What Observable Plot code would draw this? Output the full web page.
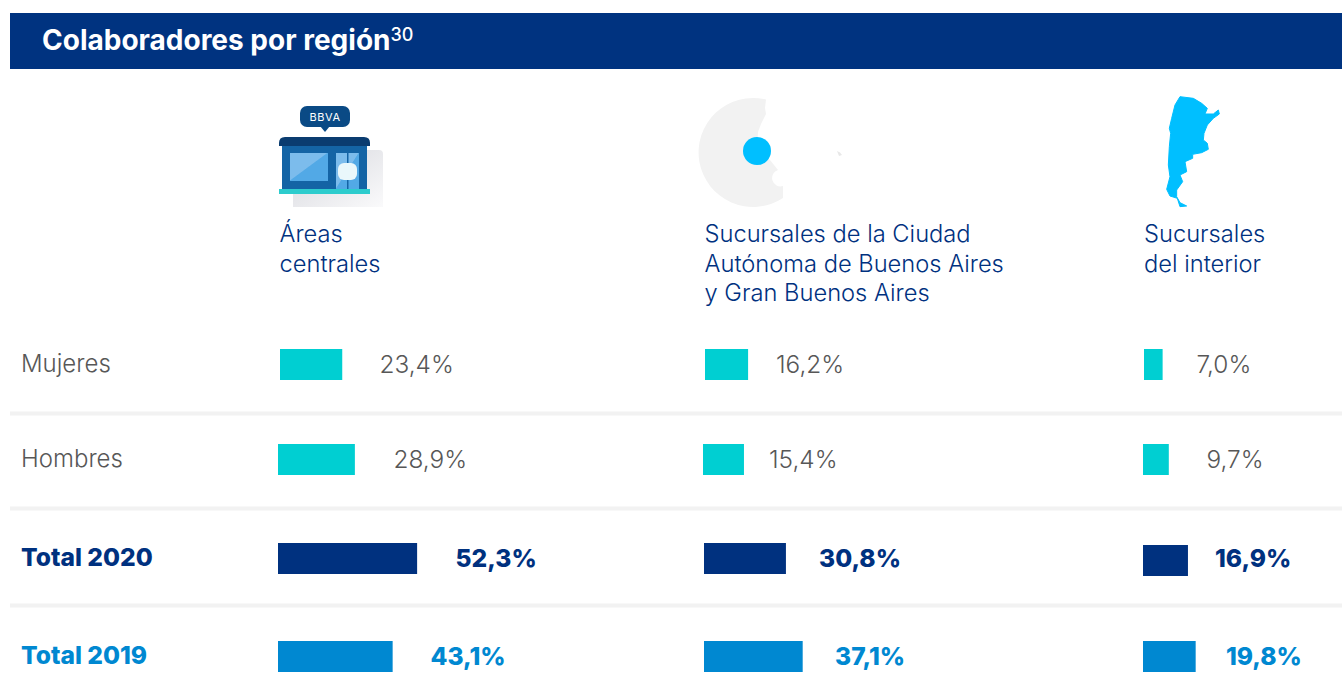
<!DOCTYPE html>
<html lang="es">
<head>
<meta charset="utf-8">
<script src="https://cdn.jsdelivr.net/npm/d3@7"></script>
<script src="https://cdn.jsdelivr.net/npm/@observablehq/plot@0.6"></script>
<style>
  html, body { margin: 0; padding: 0; background: #fff; overflow: hidden; width: 1342px; height: 673px; }
  #page { position: relative; width: 1342px; height: 673px; font-family: Inter, "Open Sans", sans-serif; }
  #header { position: absolute; left: 10px; top: 13px; width: 1332px; height: 56px; background: #003380; color: #fff;
            font: 700 28px/54px Inter, sans-serif; box-sizing: border-box; padding-left: 32px; letter-spacing: 0; }
  #header sup { font-size: 18px; font-weight: 500; line-height: 0; vertical-align: 9px; }
  #chart { position: absolute; left: 0; top: 69px; }
  #icons { position: absolute; left: 0; top: 0; pointer-events: none; }
</style>
</head>
<body>
<div id="page">
  <div id="header">Colaboradores por región<sup>30</sup></div>
  <div id="chart"></div>
  <svg id="icons" width="1342" height="220" viewBox="0 0 1342 220" aria-hidden="true">
    <defs>
      <linearGradient id="sh" x1="0" y1="0" x2="1" y2="1">
        <stop offset="0" stop-color="#d6d7dd"/><stop offset="1" stop-color="#fafafb"/>
      </linearGradient>
      <linearGradient id="glass" x1="0" y1="0" x2="1" y2="1">
        <stop offset="0.48" stop-color="#7cbcec"/><stop offset="0.5" stop-color="#52a9e6"/>
      </linearGradient>
    </defs>
    <!-- building -->
    <path d="M367 150H379Q383 150 383 154V207H293V194H367Z" fill="url(#sh)"/>
    <rect x="300" y="106" width="50" height="21" rx="7" fill="#0a4a85"/>
    <path d="M320 126H330L325 132Z" fill="#0a4a85"/>
    <text x="325" y="121" text-anchor="middle" font-family="Inter" font-size="11" font-weight="400" letter-spacing="0.6" fill="#fff">BBVA</text>
    <path d="M279 146V143Q279 137 285 137H364Q370 137 370 143V146Z" fill="#0a3c70"/>
    <rect x="282" y="146" width="85" height="43" fill="#1464a5"/>
    <rect x="290" y="153" width="38" height="28" fill="url(#glass)"/>
    <rect x="336" y="153" width="23" height="36" fill="url(#glass)"/>
    <rect x="347" y="153" width="1.5" height="36" fill="#1464a5"/>
    <rect x="338" y="163" width="19" height="17" rx="6" fill="#e9f7fb"/>
    <rect x="279" y="189" width="91" height="5" fill="#2dcccd"/>
    <!-- city disc -->
    <path d="M766 99.5L765 108L766 114L761 124L758 132L757 145L770 160L778 170A7 7 0 0 0 783 186V198A54.5 54.5 0 1 1 766 99.5Z" fill="#f2f2f2"/>
    <circle cx="757" cy="151" r="14" fill="#00bfff"/>
    <path d="M837 151L840 152.5L842 155L839 156Z" fill="#e8e8e8"/>
    <!-- Argentina -->
    <g transform="translate(1130 90) scale(0.3333)">
      <path d="M150 20L190 25L215 40L232 55L225 72L250 72L265 60L268 72L250 85L232 105L222 130L220 150L232 160L235 178L215 188L188 193L188 205L165 215L170 245L150 255L158 275L140 300L140 320L150 338L170 348L150 350L142 325L120 318L110 298L120 260L115 225L118 170L122 130L118 115L125 85L135 45Z" fill="#00bfff" stroke="#00bfff" stroke-width="3" stroke-linejoin="round"/>
    </g>
  </svg>
</div>
<script>
// ---- data ----
const regions  = ["Áreas\ncentrales", "Sucursales de la Ciudad\nAutónoma de Buenos Aires\ny Gran Buenos Aires", "Sucursales\ndel interior"];
const rowNames = ["Mujeres", "Hombres", "Total 2020", "Total 2019"];
const mujeres   = [23.4, 16.2, 7.0];
const hombres   = [28.9, 15.4, 9.7];
const total2020 = [52.3, 30.8, 16.9];
const total2019 = [43.1, 37.1, 19.8];
const series = [mujeres, hombres, total2020, total2019];

// ---- layout (page pixels), kept apart from the data ----
const pxPerPoint = 2.66;
const headingX = [279, 704, 1143.5];
const barLeft  = [[280, 705, 1144], [278, 703, 1143], [278, 704, 1143], [278, 704, 1143]];
const barTop   = [[349, 349, 349], [444, 444, 444], [543, 543, 545], [641, 641, 641]];
const barH = 31;
const labelLeft = [[379, 775.5, 1196], [393, 768.5, 1206], [455, 818.5, 1214.5], [430, 834.5, 1225.5]];
const textY = [364, 459, 558, 656];
const ruleYs = [413, 508, 605];
const barFill  = ["#00cfd2", "#00cfd2", "#00317f", "#0088d1"];
const textFill = ["#575757", "#575757", "#00317f", "#0088d1"];
const top0 = 69, H = 673 - top0;

const px = p => p / pxPerPoint;            // page x -> scale units (percentage points)
const fmt = v => v.toFixed(1).replace(".", ",") + "%";

const cells = series.flatMap((vals, r) => vals.map((value, c) => ({
  r, c, value,
  x1: px(barLeft[r][c]),
  x2: px(barLeft[r][c]) + value,
  y1: barTop[r][c], y2: barTop[r][c] + barH,
  lx: px(labelLeft[r][c]), ly: textY[r] + (r < 2 ? 0.5 : 0.5)
})));
const plain = cells.filter(d => d.r < 2), bold = cells.filter(d => d.r >= 2);
const names = rowNames.map((name, r) => ({name, r, x: px(20.5), y: textY[r]}));
const heads = regions.map((t, c) => ({t, x: px(headingX[c])}));

const numStyle = {x: "lx", y: "ly", text: d => fmt(d.value), textAnchor: "start", lineAnchor: "middle",
                  fill: d => textFill[d.r]};
const nameStyle = {x: "x", y: "y", text: "name", textAnchor: "start", lineAnchor: "middle", fontFamily: "Inter",
                   fill: d => textFill[d.r]};
const chart = Plot.plot({
  width: 1342, height: H,
  margin: 0,
  x: {domain: [0, 1342 / pxPerPoint], range: [0, 1342], axis: null},
  y: {domain: [top0, 673], range: [0, H], axis: null},
  color: {type: "identity"},
  style: {background: "transparent"},
  marks: [
    Plot.ruleY(ruleYs, {x1: px(10), x2: px(1342), stroke: "#f2f2f2", strokeWidth: 4}),
    Plot.rect(cells, {x1: "x1", x2: "x2", y1: "y1", y2: "y2", fill: d => barFill[d.r]}),
    Plot.text(plain, {...numStyle, fontSize: 24.4, fontWeight: 300, fontFamily: "Inter"}),
    Plot.text(bold,  {...numStyle, fontSize: 24.6, fontWeight: 800, fontFamily: "Inter"}),
    Plot.text(names.filter(d => d.r < 2), {...nameStyle, fontSize: 24, fontWeight: 300}),
    Plot.text(names.filter(d => d.r >= 2), {...nameStyle, fontSize: 24.6, fontWeight: 800}),
    Plot.text(heads, {x: "x", y: () => 221, text: "t", textAnchor: "start", lineAnchor: "top", fontSize: 23.7,
      lineHeight: 1.245, fontFamily: "Inter", fontWeight: 300, fill: "#00317f"})
  ]
});
document.getElementById("chart").appendChild(chart);
</script>
</body>
</html>
